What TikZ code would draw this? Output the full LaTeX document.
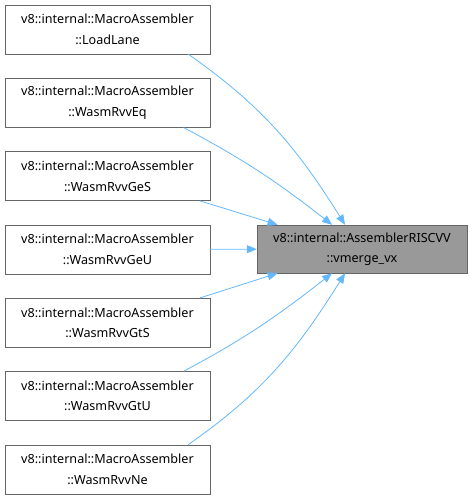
\documentclass[tikz,border=0pt]{standalone}
\usepackage{fontspec}
\setmainfont{Noto Sans}
\usetikzlibrary{arrows.meta,positioning,calc}
\definecolor{edgeblue}{HTML}{63B8FF}
\definecolor{boxline}{HTML}{666666}
\definecolor{hitgray}{HTML}{999999}
\tikzset{caller/.style={draw=boxline,fill=white,align=center,minimum width=205pt,minimum height=49pt,inner sep=0pt,font=\fontsize{12.6}{20.5}\selectfont}, callee/.style={caller,fill=hitgray,minimum width=210pt,minimum height=48pt}, call/.style={{Triangle[length=10pt,width=8pt]}-,draw=edgeblue,line width=0.8pt}}
\begin{document}
\begin{tikzpicture}[x=1pt,y=1pt]
\useasboundingbox (0,0) rectangle (473,-499);
\node[caller] (ll) at (107.5,-29.5) {v8::internal::MacroAssembler\\::LoadLane};
\node[caller] (eq) at (107.5,-102.8) {v8::internal::MacroAssembler\\::WasmRvvEq};
\node[caller] (ges) at (107.5,-176.1) {v8::internal::MacroAssembler\\::WasmRvvGeS};
\node[caller] (geu) at (107.5,-249.4) {v8::internal::MacroAssembler\\::WasmRvvGeU};
\node[caller] (gts) at (107.5,-322.7) {v8::internal::MacroAssembler\\::WasmRvvGtS};
\node[caller] (gtu) at (107.5,-396.0) {v8::internal::MacroAssembler\\::WasmRvvGtU};
\node[caller] (ne) at (107.5,-469.3) {v8::internal::MacroAssembler\\::WasmRvvNe};
\node[callee] (vm) at (362,-249) {v8::internal::AssemblerRISCVV\\::vmerge\_vx};
% callers above
\draw[call] (vm.125) to[out=122,in=-35] (ll.-17);
\draw[call] (vm.141) to[out=142,in=-28] (eq.-18);
\draw[call] (vm.164) -- (ges.-15);
\draw[call] (vm) -- (geu);
% callers below
\draw[call] (vm.-164) -- (gts.15);
\draw[call] (vm.-141) to[out=-142,in=28] (gtu.18);
\draw[call] (vm.-125) to[out=-122,in=35] (ne.17);
\end{tikzpicture}
\end{document}
